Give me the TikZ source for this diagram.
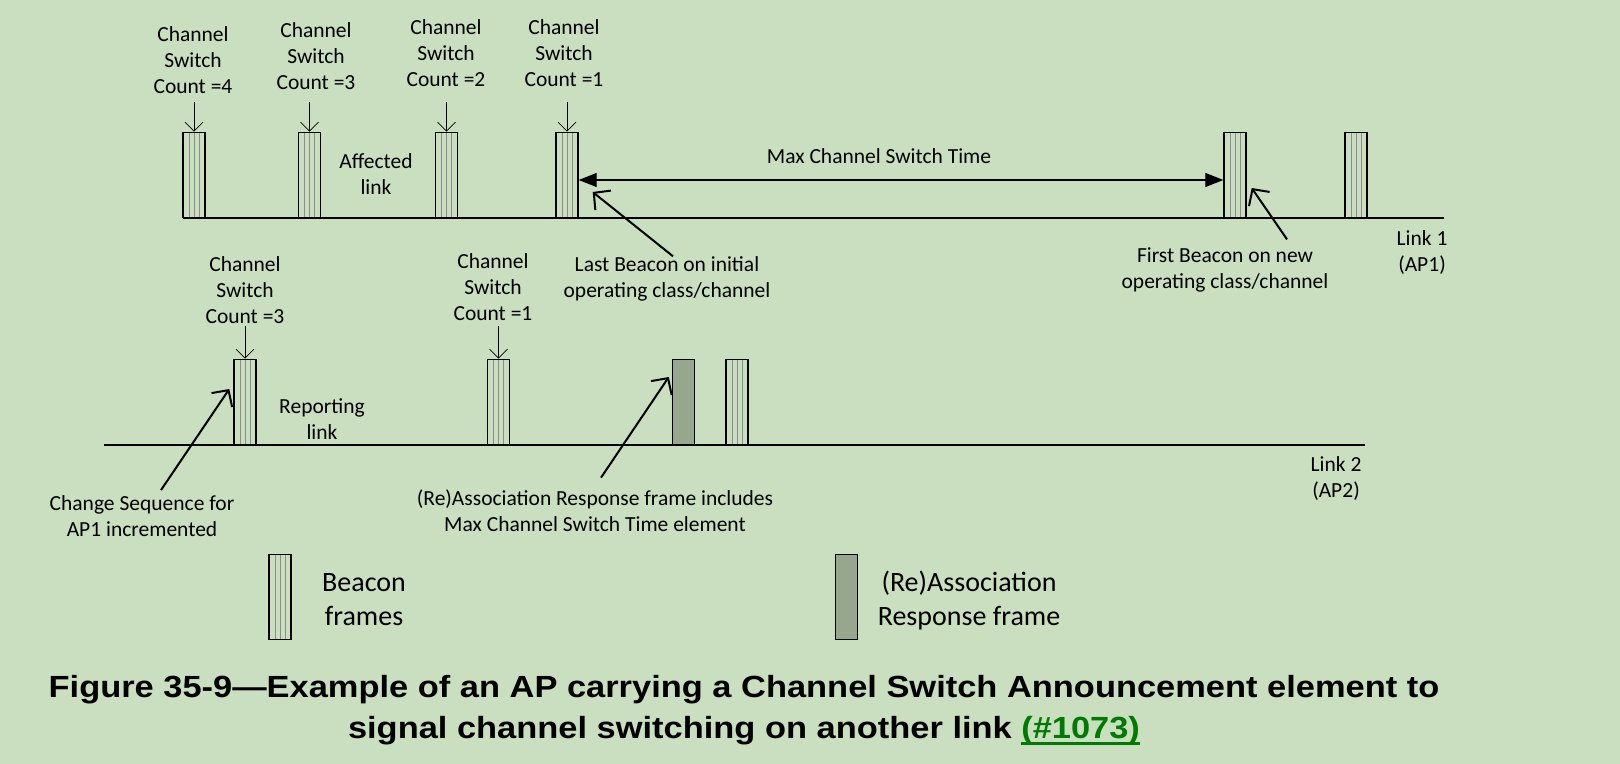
\documentclass[tikz,border=0pt]{standalone}
\usepackage{fontspec}
\setmainfont{Carlito}
\newfontfamily\capfont{Liberation Sans}
\usepackage{xcolor}
\usepackage{graphicx}
\usepackage{tikz}
\usetikzlibrary{arrows.meta,calc,positioning}
\definecolor{paneback}{RGB}{202,222,192}
\definecolor{respfill}{RGB}{151,167,141}
\definecolor{taggreen}{RGB}{0,122,0}
\newcommand\fatunderline[1]{\setbox0\hbox{#1}\rlap{\rule[-3.6pt]{\wd0}{1.4pt}}\box0}

\begin{document}
\begin{tikzpicture}[x=0.5pt,y=-0.5pt,
    font=\fontsize{10.75}{13}\selectfont,
    every node/.style={inner sep=0pt},
    barbox/.style={draw,line width=0.7pt,minimum width=11pt,minimum height=42.5pt,anchor=south},
    beacon/.style={barbox,path picture={
        \foreach \f in {0.28,0.5,0.72}
          \draw[black!45,line width=0.25pt]
            ($(path picture bounding box.south west)!\f!(path picture bounding box.south east)$) --
            ($(path picture bounding box.north west)!\f!(path picture bounding box.north east)$);}},
    response/.style={barbox,fill=respfill},
    cslabel/.style={align=center},
    keytext/.style={align=center,font=\fontsize{14}{17}\selectfont},
    captext/.style={anchor=base,font=\capfont\bfseries\fontsize{15.3}{20}\selectfont},
    cstick/.style={-{Straight Barb[length=4.5pt,width=9pt]},line width=0.35pt},
    pointer/.style={-{Straight Barb[length=6pt,width=12.5pt]},line width=1pt},
    span/.style={{Triangle[length=9pt,width=7pt]}-{Triangle[length=9pt,width=7pt]},line width=0.6pt},
    timeline/.style={line width=0.8pt}]

    \fill[paneback] (0,0) rectangle (1620,764);
    \useasboundingbox (0,0) rectangle (1620,764);

    % link 1, the affected link
    \coordinate (l1w) at (183,218);
    \coordinate (l1e) at (1444,218);
    \draw[timeline] (l1w) -- (l1e);

    \node[beacon] (a1) at (194,218) {};
    \node[beacon] (a2) at (309.5,218) {};
    \node[beacon] (a3) at (446.5,218) {};
    \node[beacon] (a4) at (567,218) {};
    \node[beacon] (a5) at (1235,218) {};
    \node[beacon] (a6) at (1356,218) {};

    \node[cslabel] (cs4) at (193,60) {Channel\\Switch\\Count =4};
    \node[cslabel] (cs3) at (316,56) {Channel\\Switch\\Count =3};
    \node[cslabel] (cs2) at (446,53) {Channel\\Switch\\Count =2};
    \node[cslabel] (cs1) at (564,53) {Channel\\Switch\\Count =1};
    \draw[cstick] ($(a1.north)+(0,-30)$) -- (a1.north);
    \draw[cstick] ($(a2.north)+(0,-30)$) -- (a2.north);
    \draw[cstick] ($(a3.north)+(0,-30)$) -- (a3.north);
    \draw[cstick] ($(a4.north)+(0,-30)$) -- (a4.north);

    \node[align=center] (afl) at (376,174) {Affected\\link};

    \node (mcst) at (879,156) {Max Channel Switch Time};
    \draw[span] ([yshift=19pt]a4.south east) -- ([yshift=19pt]a5.south west);

    \node[align=center] (lastlbl) at (667,279) {Last Beacon on initial\\operating class/channel};
    \draw[pointer] ([xshift=3pt]lastlbl.north) -- ([xshift=7pt,yshift=13pt]a4.south east);

    \node[align=center] (firstlbl) at (1225,270) {First Beacon on new\\operating class/channel};
    \draw[pointer] ([xshift=31pt,yshift=4pt]firstlbl.north) -- ([xshift=2.5pt,yshift=15pt]a5.south east);

    \node[align=center] (l1lbl) at (1422,253) {Link 1\\(AP1)};

    % link 2, the reporting link
    \coordinate (l2w) at (104,445);
    \coordinate (l2e) at (1365,445);
    \draw[timeline] (l2w) -- (l2e);

    \node[beacon] (c1) at (245,445) {};
    \node[beacon] (c2) at (498.5,445) {};
    \node[response] (rsp) at (683.5,445) {};
    \node[beacon] (c3) at (737,445) {};

    \node[cslabel] (rcs3) at (245,290) {Channel\\Switch\\Count =3};
    \node[cslabel] (rcs1) at (493,287) {Channel\\Switch\\Count =1};
    \draw[cstick] ($(c1.north)+(0,-33)$) -- (c1.north);
    \draw[cstick] ($(c2.north)+(0,-33)$) -- (c2.north);

    \node[align=center] (rpl) at (322,419) {Reporting\\link};

    \node[align=center] (chglbl) at (142,516) {Change Sequence for\\AP1 incremented};
    \draw[pointer] ([xshift=9.5pt,yshift=2.5pt]chglbl.north) -- ([xshift=-2pt,yshift=28pt]c1.south west);

    \node[align=center] (rsplbl) at (595,511) {(Re)Association Response frame includes\\Max Channel Switch Time element};
    \draw[pointer] ([xshift=3pt,yshift=6pt]rsplbl.north) -- ([xshift=-1.5pt,yshift=34pt]rsp.south west);

    \node[align=center] (l2lbl) at (1336,479) {Link 2\\(AP2)};

    % key
    \node[beacon] (keyb) at (280,640) {};
    \node[keytext] (keybtxt) at (364,600) {Beacon\\frames};
    \node[response] (keyr) at (846.5,640) {};
    \node[keytext] (keyrtxt) at (969,601) {(Re)Association\\Response frame};

    % caption
    \node[captext] (capA) at (744,697)
      {\scalebox{1.125}[1]{Figure 35-9—Example of an AP carrying a Channel Switch Announcement element to}};
    \node[captext] (capB) at (744,738)
      {\scalebox{1.125}[1]{signal channel switching on another link \textcolor{taggreen}{\fatunderline{(\#1073)}}}};
  \end{tikzpicture}
\end{document}
